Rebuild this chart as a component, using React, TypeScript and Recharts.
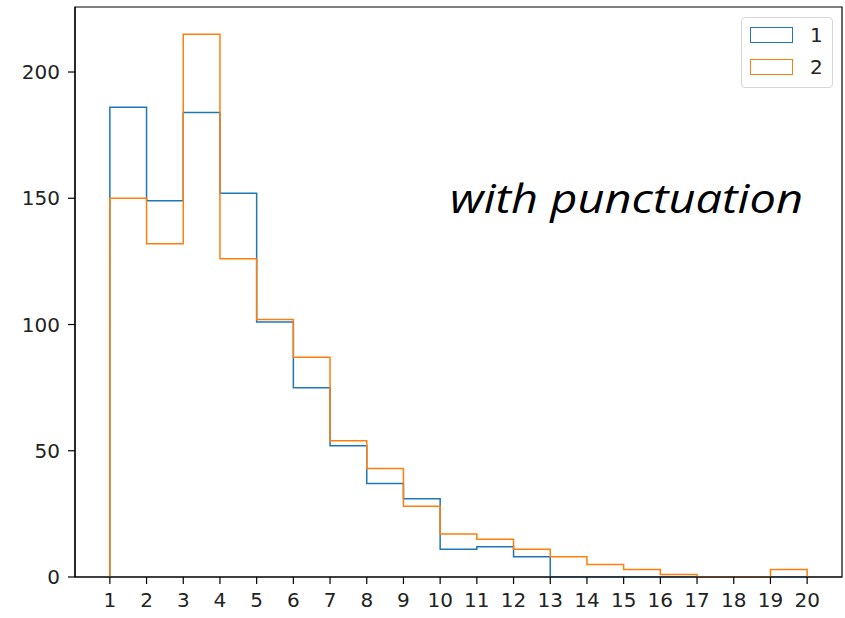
import React from 'react';
import { ComposedChart, Line, XAxis, YAxis, ReferenceArea } from 'recharts';

// Histogram bin edges (1..20) -> 19 bins
const binEdges = [1, 2, 3, 4, 5, 6, 7, 8, 9, 10, 11, 12, 13, 14, 15, 16, 17, 18, 19, 20];
const series1Counts = [186, 149, 184, 152, 101, 75, 52, 37, 31, 11, 12, 8, 0, 0, 0, 0, 0, 0, 0];
const series2Counts = [150, 132, 215, 126, 102, 87, 54, 43, 28, 17, 15, 11, 8, 5, 3, 1, 0, 0, 3];
const seriesNames = ['1', '2'];
const seriesColors = ['#1f77b4', '#ff7f0e'];
const xTicks = binEdges;
const yTicks = [0, 50, 100, 150, 200];
const annotation = 'with punctuation';

type Pt = { x: number; y: number };

function stepPoints(counts: number[]): Pt[] {
  const pts: Pt[] = [{ x: binEdges[0], y: 0 }];
  counts.forEach((c, i) => pts.push({ x: binEdges[i], y: c }));
  pts.push({ x: binEdges[binEdges.length - 1], y: 0 });
  return pts;
}

const allSeries = [series1Counts, series2Counts];
const maxCount = Math.max(...series1Counts, ...series2Counts);
const xDomain: [number, number] = [
  binEdges[0] - 0.05 * (binEdges[binEdges.length - 1] - binEdges[0]),
  binEdges[binEdges.length - 1] + 0.05 * (binEdges[binEdges.length - 1] - binEdges[0]),
];
const yDomain: [number, number] = [0, maxCount * 1.05];

const tickStyle = { fontSize: 20, fill: '#222', fontFamily: 'DejaVu Sans' };

export default function App() {
  return (
    <div style={{ position: 'absolute', left: 0, top: 0, width: 845, height: 618, background: '#fff' }}>
      <ComposedChart width={845} height={618} margin={{ top: 7, right: 3, bottom: 0, left: 0 }}>
        <XAxis
          dataKey="x"
          type="number"
          domain={xDomain}
          ticks={xTicks}
          interval={0}
          allowDataOverflow
          height={41}
          tickSize={7}
          tickMargin={9}
          stroke="#000"
          tick={tickStyle}
          tickLine={{ stroke: '#000', strokeWidth: 1.2 }}
          axisLine={{ stroke: '#000', strokeWidth: 1.2 }}
        />
        <YAxis
          type="number"
          domain={yDomain}
          ticks={yTicks}
          interval={0}
          allowDataOverflow
          width={75}
          tickSize={7}
          tickMargin={8}
          stroke="#000"
          tick={tickStyle}
          tickLine={{ stroke: '#000', strokeWidth: 1.2 }}
          axisLine={{ stroke: '#000', strokeWidth: 1.2 }}
        />
        <ReferenceArea
          x1={xDomain[0]}
          x2={xDomain[1]}
          y1={yDomain[0]}
          y2={yDomain[1]}
          fill="none"
          fillOpacity={0}
          stroke="#000"
          strokeWidth={1.2}
          ifOverflow="visible"
        />
        {allSeries.map((counts, i) => (
          <Line
            key={seriesNames[i]}
            data={stepPoints(counts)}
            dataKey="y"
            name={seriesNames[i]}
            type="stepAfter"
            stroke={seriesColors[i]}
            strokeWidth={1.5}
            dot={false}
            activeDot={false}
            isAnimationActive={false}
          />
        ))}
      </ComposedChart>
      <svg width={845} height={618} style={{ position: 'absolute', left: 0, top: 0, pointerEvents: 'none' }}>
        <text
          x={450}
          y={213}
          fontSize={40}
          fontStyle="italic"
          fontFamily="'Open Sans', sans-serif"
          fill="#000"
          textLength={353}
          lengthAdjust="spacingAndGlyphs"
        >
          {annotation}
        </text>
      </svg>
      <div
        style={{
          position: 'absolute',
          left: 741,
          top: 17,
          width: 90,
          height: 69,
          border: '1px solid #d6d6d6',
          borderRadius: 4,
          background: 'rgba(255,255,255,0.8)',
          fontFamily: 'DejaVu Sans',
          fontSize: 20,
          color: '#222',
        }}
      >
        {seriesNames.map((n, i) => (
          <div key={n} style={{ position: 'absolute', left: 8, top: 9 + i * 32, height: 16, display: 'flex', alignItems: 'center' }}>
            <div style={{ width: 41, height: 14, border: `1.5px solid ${seriesColors[i]}`, boxSizing: 'content-box' }} />
            <span style={{ marginLeft: 17, lineHeight: '16px' }}>{n}</span>
          </div>
        ))}
      </div>
    </div>
  );
}
